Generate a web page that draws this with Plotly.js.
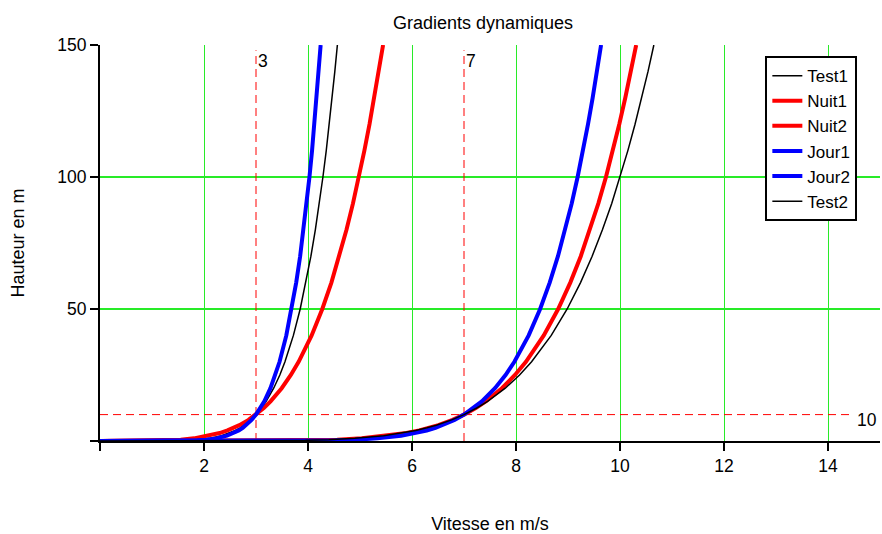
<!DOCTYPE html>
<html>
<head>
<meta charset="utf-8">
<script src="https://cdn.plot.ly/plotly-3.0.1.min.js"></script>
<style>
  html, body { margin: 0; padding: 0; background: #fff; }
  #graph { width: 882px; height: 534px; }
</style>
</head>
<body>
<div id="graph"></div>
<script>
// hauteurs (m) et vitesses (m/s)
var hauteurs = [0, 0.1, 0.25, 0.5, 1, 2, 3, 4, 5, 6, 8, 10, 12.5, 15, 20, 25, 30, 40, 50, 60, 70, 80, 90, 100, 110, 120, 130, 140, 150];

var test1 = [0, 1.469, 1.694, 1.886, 2.100, 2.338, 2.489, 2.603, 2.695, 2.772, 2.898, 3.000, 3.106, 3.195, 3.340, 3.458, 3.557, 3.719, 3.850, 3.960, 4.056, 4.141, 4.217, 4.287, 4.351, 4.410, 4.465, 4.516, 4.565];
var nuit1 = [0, 1.089, 1.332, 1.552, 1.808, 2.105, 2.302, 2.452, 2.576, 2.681, 2.856, 3.000, 3.151, 3.280, 3.494, 3.670, 3.820, 4.070, 4.275, 4.450, 4.603, 4.740, 4.865, 4.979, 5.084, 5.183, 5.275, 5.361, 5.444];
var nuit2 = [0, 3.623, 4.131, 4.561, 5.036, 5.561, 5.893, 6.140, 6.340, 6.507, 6.780, 7.000, 7.227, 7.418, 7.729, 7.980, 8.191, 8.534, 8.811, 9.044, 9.246, 9.424, 9.584, 9.730, 9.863, 9.986, 10.102, 10.210, 10.311];
var jour1 = [0, 1.664, 1.871, 2.045, 2.234, 2.442, 2.572, 2.668, 2.745, 2.810, 2.915, 3.000, 3.087, 3.160, 3.278, 3.373, 3.453, 3.583, 3.686, 3.773, 3.849, 3.915, 3.974, 4.028, 4.078, 4.123, 4.166, 4.205, 4.243];
var jour2 = [0, 4.066, 4.530, 4.915, 5.335, 5.789, 6.073, 6.283, 6.451, 6.591, 6.818, 7.000, 7.187, 7.343, 7.596, 7.799, 7.969, 8.244, 8.464, 8.648, 8.807, 8.947, 9.072, 9.185, 9.290, 9.385, 9.474, 9.557, 9.636];
var test2 = [0, 3.429, 3.952, 4.400, 4.899, 5.454, 5.809, 6.073, 6.287, 6.467, 6.762, 7.000, 7.246, 7.454, 7.794, 8.068, 8.300, 8.678, 8.984, 9.241, 9.464, 9.662, 9.841, 10.002, 10.151, 10.289, 10.418, 10.539, 10.651];

// reperes : vitesses de reference et hauteur de reference
var vitRef = [3, 7];
var hautRef = 10;

var xTicks = [0, 2, 4, 6, 8, 10, 12, 14];
var xLabels = ['', '2', '4', '6', '8', '10', '12', '14'];
var yTicks = [0, 50, 100, 150];
var yLabels = ['', '50', '100', '150'];

var police = 'Liberation Sans, Arial, sans-serif';
var vert = 'rgb(40,235,40)';

function courbe(nom, vitesses, couleur, epaisseur) {
    return {
        x: vitesses,
        y: hauteurs,
        name: nom,
        mode: 'lines',
        type: 'scatter',
        line: {color: couleur, width: epaisseur}
    };
}

var data = [
    courbe('Test1', test1, '#000000', 1.5),
    courbe('Nuit1', nuit1, '#ff0000', 4),
    courbe('Nuit2', nuit2, '#ff0000', 4),
    courbe('Jour1', jour1, '#0000ff', 4),
    courbe('Jour2', jour2, '#0000ff', 4),
    courbe('Test2', test2, '#000000', 1.5)
];

var tirets = {color: '#ff0000', width: 1, dash: '8px,5px'};
var shapes = [];
var annotations = [];
for (var i = 0; i < vitRef.length; i++) {
    shapes.push({type: 'line', xref: 'x', yref: 'y', layer: 'between',
        x0: vitRef[i], x1: vitRef[i], y0: 0, y1: 148, line: tirets});
    annotations.push({x: vitRef[i], y: 144, xref: 'x', yref: 'y', text: String(vitRef[i]),
        showarrow: false, xanchor: 'left', yanchor: 'middle',
        font: {family: police, size: 17.5, color: '#000'}});
}
shapes.push({type: 'line', xref: 'x', yref: 'y', layer: 'between',
    x0: 0, x1: 14.5, y0: hautRef, y1: hautRef, line: tirets});
annotations.push({x: 14.75, y: 8, xref: 'x', yref: 'y', text: String(hautRef),
    showarrow: false, xanchor: 'center', yanchor: 'middle',
    font: {family: police, size: 17.5, color: '#000'}});

var layout = {
    width: 882,
    height: 534,
    margin: {l: 100, r: 2, t: 45, b: 93},
    paper_bgcolor: '#ffffff',
    plot_bgcolor: '#ffffff',
    font: {family: police, size: 17.5, color: '#000'},
    title: {
        text: 'Gradients dynamiques',
        font: {family: police, size: 18, color: '#000'},
        xref: 'paper',
        x: 0.491,
        xanchor: 'center',
        yref: 'container',
        y: 0.957,
        yanchor: 'middle'
    },
    showlegend: true,
    legend: {
        x: 0.853,
        y: 0.972,
        xanchor: 'left',
        yanchor: 'top',
        bgcolor: '#ffffff',
        bordercolor: '#000000',
        borderwidth: 2,
        font: {family: police, size: 17, color: '#000'}
    },
    xaxis: {
        range: [0, 15],
        tickmode: 'array',
        tickvals: xTicks,
        ticktext: xLabels,
        ticks: 'outside',
        ticklen: 8,
        tickwidth: 2,
        tickcolor: '#000',
        showline: true,
        linecolor: '#000',
        linewidth: 2,
        showgrid: true,
        gridcolor: vert,
        gridwidth: 1,
        zeroline: false,
        title: {text: 'Vitesse en m/s', standoff: 52,
            font: {family: police, size: 18, color: '#000'}}
    },
    yaxis: {
        range: [0, 150],
        tickmode: 'array',
        tickvals: yTicks,
        ticktext: yLabels,
        ticks: 'outside',
        ticklen: 8,
        tickwidth: 2,
        tickcolor: '#000',
        showline: true,
        linecolor: '#000',
        linewidth: 2,
        showgrid: true,
        gridcolor: vert,
        gridwidth: 1.5,
        zeroline: false,
        title: {text: 'Hauteur en m', standoff: 28,
            font: {family: police, size: 18, color: '#000'}}
    },
    shapes: shapes,
    annotations: annotations
};

Plotly.newPlot('graph', data, layout, {displayModeBar: false, staticPlot: true});
</script>
</body>
</html>
